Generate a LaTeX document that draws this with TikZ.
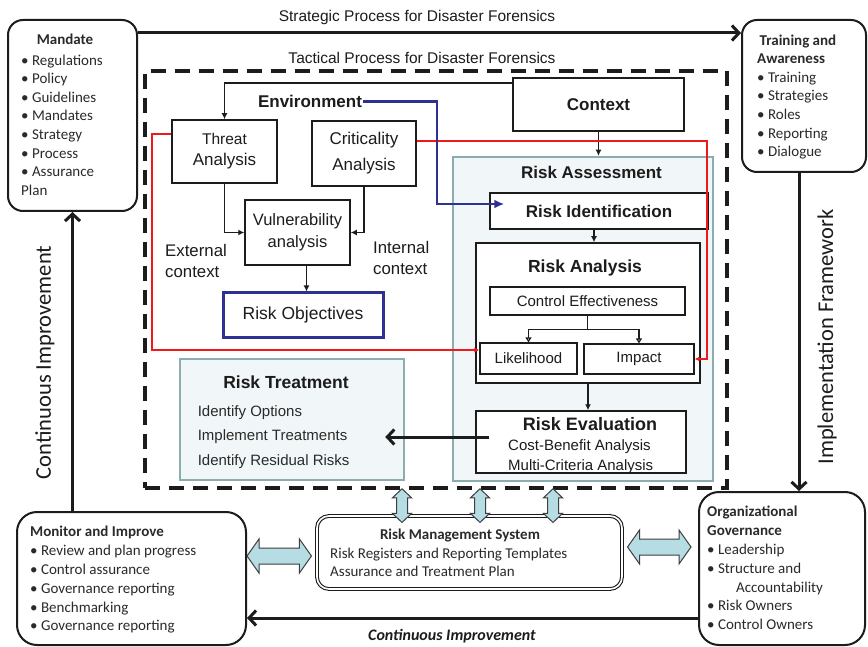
\documentclass[tikz,border=0pt]{standalone}
\usepackage{fontspec}
\setmainfont{Liberation Sans}
\newfontfamily\calfont{Carlito}
\usetikzlibrary{arrows.meta,calc}

\definecolor{ink}{HTML}{1C1C1C}
\definecolor{softink}{HTML}{2A2A2A}
\definecolor{tealedge}{HTML}{8CADAF}
\definecolor{palefill}{HTML}{F1F7F8}
\definecolor{navy}{HTML}{2E3192}
\definecolor{redline}{HTML}{F01818}
\definecolor{aqua}{HTML}{B6DDE4}

% broad two-headed arrow lying flat: #1 left tip, #2 right tip
\newcommand\hfat[2]{%
  \filldraw[fatarrow] let \p1=#1, \p2=#2 in
   (\x1,\y1) -- (\x1+12pt,\y1+17pt) -- (\x1+12pt,\y1+8pt) -- (\x2-12pt,\y1+8pt)
   -- (\x2-12pt,\y1+17pt) -- (\x2,\y1) -- (\x2-12pt,\y1-17pt) -- (\x2-12pt,\y1-8pt)
   -- (\x1+12pt,\y1-8pt) -- (\x1+12pt,\y1-17pt) -- cycle;}
% broad two-headed arrow standing upright: #1 top tip, #2 bottom tip
\newcommand\vfat[2]{%
  \filldraw[fatarrow] let \p1=#1, \p2=#2 in
   (\x1,\y1) -- (\x1+9.5pt,\y1-9pt) -- (\x1+5.5pt,\y1-9pt) -- (\x1+5.5pt,\y2+9pt)
   -- (\x1+9.5pt,\y2+9pt) -- (\x1,\y2) -- (\x1-9.5pt,\y2+9pt) -- (\x1-5.5pt,\y2+9pt)
   -- (\x1-5.5pt,\y1-9pt) -- (\x1-9.5pt,\y1-9pt) -- cycle;}

\tikzset{
  every node/.style={text=ink},
  plainbox/.style={draw=ink, line width=1.5pt, fill=white, inner sep=0pt, align=center},
  roundbox/.style={draw=ink, line width=2pt, fill=white, rounded corners=15pt, inner sep=0pt},
  tealbox/.style={draw=tealedge, line width=2.5pt, fill=palefill, inner sep=0pt},
  thinarrow/.style={draw=ink, line width=1.5pt, -{Latex[length=6pt,width=6pt]}},
  smallopen/.style={draw=ink, line width=1.2pt, -{Triangle[open,length=5pt,width=6pt]}},
  bigarrow/.style={draw=ink, line width=3pt, -{Straight Barb[length=7pt,width=15pt]}},
  redwire/.style={draw=redline, line width=1.6pt, -{Latex[length=5pt,width=5pt]}},
  bluewire/.style={draw=navy, line width=2.5pt, -{Latex[length=10pt,width=9pt]}},
  fatarrow/.style={fill=aqua, draw=ink!85, line width=1pt},
  calbody/.style={font=\calfont\fontsize{15}{18.6}\selectfont, text=softink, inner sep=0pt, align=left},
}

\begin{document}
\begin{tikzpicture}[x=1pt,y=-1pt]
\useasboundingbox (0,0) rectangle (868,647);
\fill[white] (0,0) rectangle (868,647);

% ---------- tactical frame ----------
\node[draw=ink, line width=3.5pt, dash pattern=on 15pt off 9pt, minimum width=582,
      minimum height=417, inner sep=0] (tactical) at (436,279.5) {};

% ---------- strategic level ----------
\node[roundbox, minimum width=129, minimum height=191] (mandate) at (72.5,115.5) {};
\node[font=\calfont\bfseries\fontsize{15}{18}\selectfont, text=softink, anchor=base] (mandtitle) at (65,45) {Mandate};
\node[calbody, anchor=north west] (mandlist) at (21,53) {\rule{0pt}{12pt}\textbullet\ Regulations\\
  \textbullet\ Policy\\ \textbullet\ Guidelines\\ \textbullet\ Mandates\\ \textbullet\ Strategy\\
  \textbullet\ Process\\ \textbullet\ Assurance\\ Plan};

\node[roundbox, minimum width=124, minimum height=152] (training) at (804,96) {};
\node[calbody, anchor=north west] (trainlist) at (757,33) {\rule{0pt}{12pt}\textbf{\,Training and}\\
  \textbf{Awareness}\\ \textbullet\ Training\\ \textbullet\ Strategies\\ \textbullet\ Roles\\
  \textbullet\ Reporting\\ \textbullet\ Dialogue};

\draw[bigarrow] ([yshift=-14]mandate.north east) -- ([yshift=-14]training.north west);
\node[font=\fontsize{15.5}{18}\selectfont, anchor=base] (strategic) at (417,21.5) {Strategic Process for Disaster Forensics};
\node[font=\fontsize{15.5}{18}\selectfont, anchor=base] (taclabel) at (422,63.3) {Tactical Process for Disaster Forensics};

% ---------- context establishment ----------
\node[plainbox, minimum width=171, minimum height=53, font=\bfseries\fontsize{17}{20}\selectfont] (context) at (598.5,104.5) {Context};
\node[font=\bfseries\fontsize{17}{20}\selectfont, anchor=base, inner sep=1pt] (env) at (310,107.7) {Environment};

\node[plainbox, minimum width=105, minimum height=63, font=\fontsize{17}{21}\selectfont] (threat) at (224.5,151.5)
  {{\fontsize{15.5}{21}\selectfont Threat}\\Analysis};
\node[plainbox, minimum width=104, minimum height=65, font=\fontsize{17}{26}\selectfont] (crit) at (364,153.5) {Criticality\\Analysis};
\node[plainbox, minimum width=105, minimum height=65, font=\fontsize{16.5}{22}\selectfont] (vuln) at (297.5,232.5) {Vulnerability\\analysis};
\node[draw=navy, line width=3pt, fill=white, minimum width=160, minimum height=44, inner sep=0,
      font=\fontsize{17.5}{21}\selectfont] (riskobj) at (303,315) {Risk Objectives};

\node[font=\fontsize{16.8}{21}\selectfont, align=left, anchor=north west, inner sep=0] (extctx) at (165,243) {\rule{0pt}{13pt}External\\context};
\node[font=\fontsize{16.8}{21}\selectfont, align=left, anchor=north west, inner sep=0] (intctx) at (373,240) {\rule{0pt}{13pt}Internal\\context};

\draw[thinarrow] ([yshift=-6]context.north west) -| (threat.north);
\draw[thinarrow] (threat.south) |- (vuln.west);
\draw[thinarrow] (crit.south) |- (vuln.east);
\draw[thinarrow] ([xshift=9]vuln.south) -- ([xshift=9]vuln.south |- riskobj.north);

% ---------- risk assessment ----------
\node[tealbox, minimum width=260, minimum height=324] (assess) at (583,319) {};
\node[font=\bfseries\fontsize{17}{20}\selectfont, anchor=base] (assesstitle) at (591.5,179) {Risk Assessment};
\draw[thinarrow] (context.south) -- (context.south |- assess.north);

\node[plainbox, minimum width=218, minimum height=36, font=\bfseries\fontsize{17}{20}\selectfont] (riskid) at (599,211) {Risk Identification};

\node[plainbox, minimum width=224, minimum height=140] (analysis) at (588,313) {};
\node[font=\bfseries\fontsize{17.5}{20}\selectfont, anchor=base] (analysistitle) at (585,272.3) {Risk Analysis};
\draw[thinarrow] ([xshift=-5]riskid.south) -- ([xshift=-5]riskid.south |- analysis.north);

\node[plainbox, line width=1.3pt, minimum width=195, minimum height=28, font=\fontsize{15}{18}\selectfont] (control) at (587.5,301) {Control Effectiveness};
\node[plainbox, line width=1.3pt, minimum width=97, minimum height=31, font=\fontsize{15}{18}\selectfont] (like) at (528.5,358.5) {Likelihood};
\node[plainbox, line width=1.3pt, minimum width=110, minimum height=30, font=\fontsize{15}{18}\selectfont] (impact) at (639,359) {Impact};
\draw[line width=1.2pt, draw=ink] (control.south) -- ([yshift=-14]control.south) coordinate (branch);
\draw[smallopen] (branch) -| (like.north);
\draw[smallopen] (branch) -| (impact.north);

\node[plainbox, minimum width=210, minimum height=62] (evaluation) at (581,442) {};
\node[font=\bfseries\fontsize{18}{20}\selectfont, anchor=base] (evaltitle) at (590,430.7) {Risk Evaluation};
\node[font=\fontsize{15}{19.6}\selectfont, align=left, anchor=north west, inner sep=0] (evallist) at (508,439.7)
  {\rule{0pt}{11pt}Cost-Benefit Analysis\\Multi-Criteria Analysis};
\draw[thinarrow] (analysis.south) -- (analysis.south |- evaluation.north);

% ---------- risk treatment ----------
\node[tealbox, minimum width=224, minimum height=121] (treatment) at (292,419.5) {};
\node[font=\bfseries\fontsize{17.5}{20}\selectfont, anchor=base] (treattitle) at (286,388) {Risk Treatment};
\node[font=\fontsize{15}{24.5}\selectfont, text=softink, align=left, anchor=north west, inner sep=0] (treatlist) at (197.6,404.9)
  {\rule{0pt}{11pt}Identify Options\\Implement Treatments\\Identify Residual Risks};
\draw[bigarrow] ([xshift=14,yshift=5]evaluation.west) coordinate (evalout) -- ([xshift=-20]treatment.east |- evalout);

% ---------- feedback wires ----------
\coordinate (redL) at (152,350);
\coordinate (redR) at (707,359);
\coordinate (blueT) at (437,204);
\draw[redwire] ([yshift=-15]threat.north west) -| (redL) -- (redL -| like.west);
\draw[redwire] ([yshift=-21]crit.north east) -| (redR) -- (impact.east);
\draw[bluewire] (env.east) -| (blueT) -- ([xshift=15]riskid.west |- blueT);

% ---------- operational level ----------
\node[roundbox, rounded corners=20pt, minimum width=229, minimum height=133] (monitor) at (131.5,578.5) {};
\node[calbody, font=\calfont\fontsize{15}{18.8}\selectfont, anchor=north west] (monlist) at (30,524.7)
  {\rule{0pt}{12pt}\textbf{Monitor and Improve}\\ \textbullet\ Review and plan progress\\
   \textbullet\ Control assurance\\ \textbullet\ Governance reporting\\ \textbullet\ Benchmarking\\
   \textbullet\ Governance reporting};

\node[roundbox, rounded corners=20pt, minimum width=166, minimum height=153] (org) at (782,568.5) {};
\node[calbody, font=\calfont\fontsize{15}{18.8}\selectfont, anchor=north west] (orglist) at (707,504.7)
  {\rule{0pt}{12pt}\textbf{Organizational}\\ \textbf{Governance}\\ \textbullet\ Leadership\\
   \textbullet\ Structure and\\ \hspace*{29pt}Accountability\\ \textbullet\ Risk Owners\\
   \textbullet\ Control Owners};

\node[draw=ink, line width=1.1pt, double=white, double distance=1.6pt, rounded corners=12pt,
      minimum width=305, minimum height=73, inner sep=0] (rms) at (469.5,552.5) {};
\node[font=\calfont\bfseries\fontsize{15}{18}\selectfont, text=softink, anchor=base] (rmstitle) at (460,539.3) {Risk Management System};
\node[calbody, font=\calfont\fontsize{15}{18}\selectfont, anchor=north west] (rmslist) at (330,546.3)
  {\rule{0pt}{12pt}Risk Registers and Reporting Templates\\Assurance and Treatment Plan};

% loops between levels
\draw[bigarrow] (mandate.south |- monitor.north) -- (mandate.south);
\node[rotate=90, font=\calfont\fontsize{22.5}{26}\selectfont] (ciside) at (45,362.5) {Continuous Improvement};
\draw[bigarrow] ([xshift=-5]training.south) -- ([xshift=-5]training.south |- org.north);
\node[rotate=90, font=\calfont\fontsize{22.5}{26}\selectfont] (implabel) at (827,337) {Implementation Framework};
\draw[bigarrow] ([yshift=28]org.south west) -- ([yshift=28]monitor.south east);
\node[font=\calfont\bfseries\itshape\fontsize{16}{19}\selectfont, anchor=base] (cibottom) at (452,640) {Continuous Improvement};

% two-way exchange with the risk management system
\coordinate (va) at (402,0);
\coordinate (vb) at (480,0);
\coordinate (vc) at (553,0);
\vfat{($(tactical.south -| va)+(0,-1)$)}{($(rms.north -| va)+(0,7)$)}
\vfat{($(tactical.south -| vb)+(0,-1)$)}{($(rms.north -| vb)+(0,7)$)}
\vfat{($(tactical.south -| vc)+(0,-1)$)}{($(rms.north -| vc)+(0,7)$)}
\path ($(monitor.east)+(0,-22.5)$) coordinate (hl1);
\path ($(hl1 -| rms.west)+(-5,0)$) coordinate (hl2);
\hfat{(hl1)}{(hl2)}
\path ($(rms.east)+(5,-5.5)$) coordinate (hr1);
\path ($(hr1 -| org.west)+(-7,0)$) coordinate (hr2);
\hfat{(hr1)}{(hr2)}
\end{tikzpicture}
\end{document}
